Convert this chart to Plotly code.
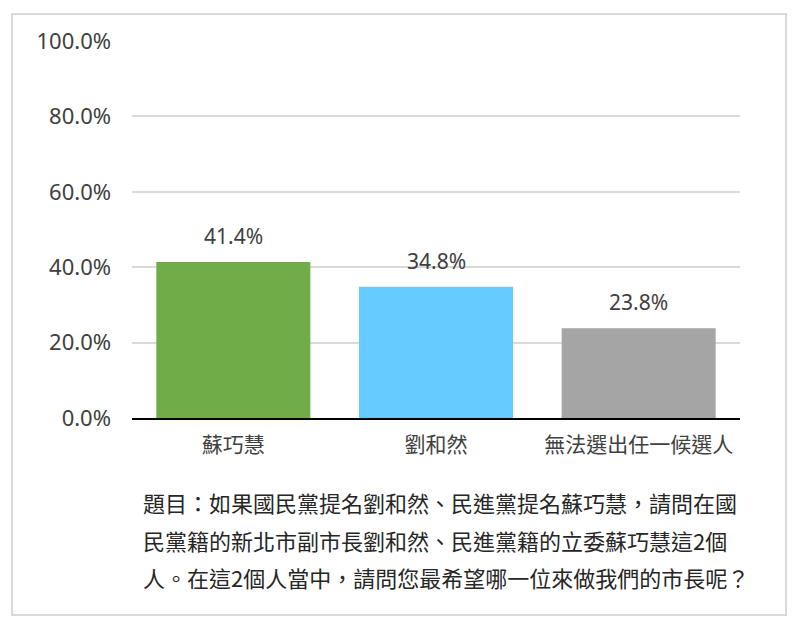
import plotly.graph_objects as go

categories = ["蘇巧慧", "劉和然", "無法選出任一候選人"]
values = [41.4, 34.8, 23.8]
colors = ["#70AD47", "#66CCFF", "#A5A5A5"]
tick_vals = [0, 20, 40, 60, 80, 100]
tick_text = ["0.0%", "20.0%", "40.0%", "60.0%", "80.0%", "100.0%"]
question_lines = [
    "題目：如果國民黨提名劉和然、民進黨提名蘇巧慧，請問在國",
    "民黨籍的新北市副市長劉和然、民進黨籍的立委蘇巧慧這2個",
    "人。在這2個人當中，請問您最希望哪一位來做我們的市長呢？",
]

FONT = "Noto Sans CJK TC"
OFF = 8  # page body margin
L, T = 132 - OFF, 41 - OFF
W, H = 800, 634
R = W - (740 - OFF)
B = H - (418 - OFF)
pw, ph = W - L - R, H - T - B

def px_x(x):
    return (x - OFF - L) / pw

def px_y(y):
    return (H - B - (y - OFF)) / ph

fig = go.Figure()
fig.add_trace(go.Bar(
    x=categories, y=values, marker=dict(color=colors, line=dict(width=0)),
    width=0.76, hoverinfo="skip",
))

for c, v in zip(categories, values):
    fig.add_annotation(x=c, y=v, text=f"{v:.1f}%", showarrow=False,
                       yanchor="bottom", yshift=10,
                       font=dict(family="Noto Sans", size=21, color="#404040"))

line_y = [502, 540, 577]
for txt, yy in zip(question_lines, line_y):
    fig.add_annotation(xref="paper", yref="paper", x=px_x(141), y=px_y(yy),
                       xanchor="left", yanchor="middle", showarrow=False,
                       text=txt, font=dict(family=FONT, size=22, color="#262626"))

fig.add_shape(type="rect", xref="paper", yref="paper",
              x0=px_x(12), x1=px_x(786), y0=px_y(14), y1=px_y(615),
              line=dict(color="#D9D9D9", width=2), fillcolor="rgba(0,0,0,0)",
              layer="below")

fig.update_layout(
    width=W, height=H, margin=dict(l=L, r=R, t=T, b=B),
    paper_bgcolor="white", plot_bgcolor="white", showlegend=False,
    bargap=0.24,
    xaxis=dict(showline=True, linecolor="black", linewidth=2, ticks="",
               ticklabelstandoff=7,
               tickfont=dict(family=FONT, size=21, color="#404040"),
               fixedrange=True),
    yaxis=dict(range=[0, 100], tickvals=tick_vals, ticktext=tick_text,
               showgrid=True, gridcolor="#D9D9D9", gridwidth=1.5,
               zeroline=False, showline=False, ticks="", ticklabelstandoff=20,
               tickfont=dict(family="Noto Sans", size=22, color="#404040"),
               fixedrange=True),
)

fig.write_html("out.html")
